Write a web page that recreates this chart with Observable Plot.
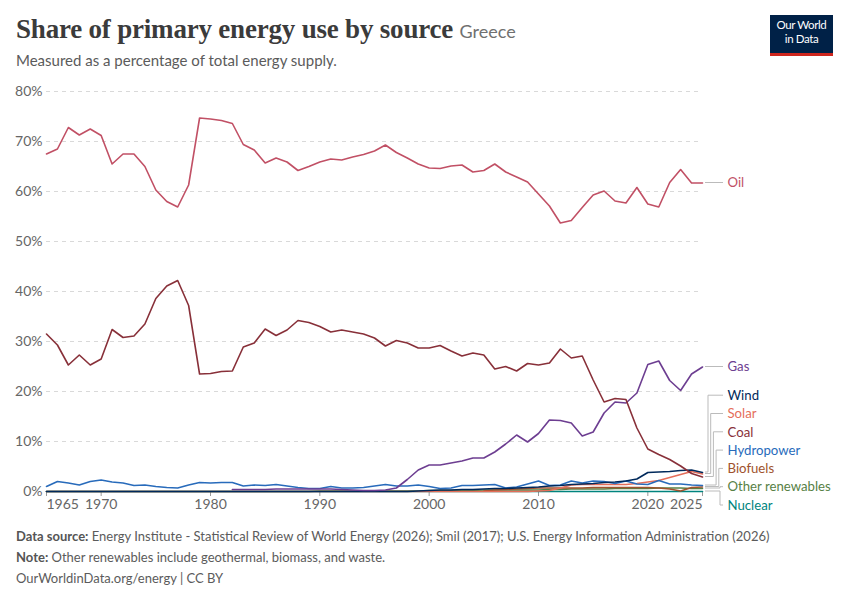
<!DOCTYPE html>
<html><head><meta charset="utf-8">
<script src="https://cdn.jsdelivr.net/npm/d3@7"></script>
<script src="https://cdn.jsdelivr.net/npm/@observablehq/plot@0.6"></script>
<style>
body{margin:0;background:#fff;font-family:Lato,sans-serif;}
#wrap{position:relative;width:850px;height:600px;overflow:hidden;}
#title{position:absolute;left:16px;top:14px;font-family:"Liberation Serif",serif;font-size:27px;color:#3b3b3b;font-weight:700;letter-spacing:-0.2px;white-space:nowrap}
#title span{font-family:Lato,sans-serif;font-size:18px;color:#707070;font-weight:400;letter-spacing:0}
#subtitle{position:absolute;left:16px;top:51px;font-size:15px;color:#5b5b5b}
#logo{position:absolute;left:770px;top:15px;width:63px;height:35px;background:#002147;border-bottom:3px solid #ce261e;color:#fff;font-size:11.5px;line-height:14px;text-align:center;padding-top:3px;box-sizing:content-box;letter-spacing:-0.4px;white-space:nowrap}
#chart{position:absolute;left:0;top:80px}
#footer{position:absolute;left:16px;top:526px;font-size:13px;color:#5b5b5b;line-height:21px}
#footer b{font-weight:700;color:#555}
</style></head>
<body><div id="wrap">
<div id="title">Share of primary energy use by source <span>Greece</span></div>
<div id="subtitle">Measured as a percentage of total energy supply.</div>
<div id="logo">Our World<br>in Data</div>
<div id="chart"></div>
<div id="footer">
<div><b>Data source:</b> Energy Institute - Statistical Review of World Energy (2026); Smil (2017); U.S. Energy Information Administration (2026)</div>
<div><b>Note:</b> Other renewables include geothermal, biomass, and waste.</div>
<div>OurWorldinData.org/energy | CC BY</div>
</div>
</div>
<script>
// Years 1965..2025
const startYear = 1965;
const endYear = 2025;
const oil = [67.5,68.5,72.8,71.3,72.5,71.2,65.5,67.5,67.5,65.0,60.3,58.0,56.9,61.3,74.7,74.5,74.2,73.6,69.4,68.3,65.7,66.7,65.9,64.2,65.0,65.9,66.5,66.3,66.9,67.4,68.1,69.3,67.8,66.7,65.5,64.7,64.6,65.1,65.3,63.9,64.2,65.5,63.9,62.9,61.9,59.5,57.1,53.7,54.2,56.8,59.3,60.1,58.1,57.7,60.8,57.5,56.9,61.8,64.4,61.7,61.7];
const coal = [31.5,29.3,25.3,27.3,25.3,26.5,32.4,30.8,31.1,33.5,38.6,41.1,42.2,37.2,23.5,23.6,24.0,24.1,28.9,29.7,32.5,31.2,32.3,34.2,33.8,33.0,31.9,32.3,31.9,31.5,30.7,29.1,30.2,29.7,28.7,28.7,29.2,28.1,27.1,27.7,27.3,24.5,25.0,24.1,25.6,25.3,25.7,28.5,26.7,27.1,22.3,17.9,18.6,18.4,12.7,8.5,7.4,6.4,5.1,3.6,2.9];
// Gas starts in 1982
const gasStart = 1982;
const gas = [0.4,0.4,0.4,0.4,0.5,0.5,0.5,0.5,0.5,0.5,0.4,0.3,0.2,0.2,0.3,0.7,2.4,4.3,5.3,5.3,5.7,6.1,6.7,6.7,7.9,9.5,11.3,9.9,11.6,14.3,14.2,13.7,11.1,11.9,15.7,17.9,17.7,19.7,25.4,26.1,22.2,20.2,23.5,24.9];
const hydro = [1.0,2.0,1.7,1.3,2.0,2.3,1.9,1.7,1.2,1.3,1.0,0.8,0.7,1.3,1.8,1.7,1.8,1.8,1.1,1.3,1.2,1.4,1.1,0.8,0.6,0.6,1.0,0.7,0.7,0.8,1.1,1.4,1.1,1.1,1.3,1.0,0.6,0.7,1.2,1.2,1.3,1.4,0.7,0.9,1.5,2.1,1.2,1.3,2.1,1.7,2.1,2.0,1.6,2.1,1.5,1.4,2.2,1.5,1.5,1.3,1.2];
const wind = [0,0,0,0,0,0,0,0,0,0,0,0,0,0,0,0,0,0,0,0,0,0,0,0,0,0,0,0,0,0,0,0,0,0,0.1,0.2,0.3,0.3,0.4,0.4,0.5,0.6,0.6,0.7,0.8,0.9,1.1,1.2,1.4,1.5,1.6,1.8,1.9,2.1,2.5,3.8,3.9,4.0,4.2,4.3,3.8];
const solar = [0,0,0,0,0,0,0,0,0,0,0,0,0,0,0,0,0,0,0,0,0,0,0,0,0,0,0,0,0,0,0,0,0,0,0,0,0,0,0,0,0,0,0,0,0,0.1,0.2,0.7,1.3,1.4,1.4,1.4,1.4,1.4,1.6,1.9,2.2,2.8,3.4,4.0,3.5];
// Biofuels start in 2005
const biofuelsStart = 2005;
const biofuels = [0.1,0.3,0.4,0.5,0.6,0.7,0.7,0.7,0.7,0.7,0.8,0.8,0.8,0.8,0.8,0.8,0.7,0.5,0.1,0.8,0.9];
const otherRenewables = [0,0,0,0,0,0,0,0,0,0,0,0,0,0,0,0,0,0,0,0,0,0,0,0,0,0.1,0.1,0.1,0.1,0.1,0.1,0.1,0.1,0.1,0.1,0.2,0.2,0.2,0.2,0.2,0.3,0.3,0.3,0.3,0.3,0.3,0.4,0.4,0.5,0.5,0.5,0.5,0.6,0.6,0.6,0.6,0.7,0.7,0.7,0.6,0.6];
const nuclear = [0,0,0,0,0,0,0,0,0,0,0,0,0,0,0,0,0,0,0,0,0,0,0,0,0,0,0,0,0,0,0,0,0,0,0,0,0,0,0,0,0,0,0,0,0,0,0,0,0,0,0,0,0,0,0,0,0,0,0,0,0];

const seriesNames = ["Nuclear","Other renewables","Biofuels","Solar","Hydropower","Wind","Gas","Coal","Oil"];
const seriesColors = ["#00847e","#578145","#a0522d","#e56e5a","#286bbb","#00295b","#6d3e91","#883039","#c15065"];
const yTicks = [0,10,20,30,40,50,60,70,80];
const xTicksMid = [1970,1980,1990,2000,2010,2020];

const seriesData = {
  "Nuclear": [startYear, nuclear],
  "Other renewables": [startYear, otherRenewables],
  "Biofuels": [biofuelsStart, biofuels],
  "Solar": [startYear, solar],
  "Hydropower": [startYear, hydro],
  "Wind": [startYear, wind],
  "Gas": [gasStart, gas],
  "Coal": [startYear, coal],
  "Oil": [startYear, oil]
};
const rows = [];
for (const name of seriesNames) {
  const [s, vals] = seriesData[name];
  vals.forEach((v, i) => rows.push({name, year: s + i, value: v}));
}

// label layout (dodge overlapping labels)
const labelItems = seriesNames.map(name => {
  const vals = seriesData[name][1];
  return {name, value: vals[vals.length - 1]};
});
function layoutLabels(items, gap, minV) {
  const clusters = items.slice().sort((a, b) => a.value - b.value).map(d => ({items: [d]}));
  const place = c => {
    const n = c.items.length;
    const mean = d3.mean(c.items, d => d.value);
    let lo = mean - (n - 1) * gap / 2;
    if (lo < minV) lo = minV;
    c.lo = lo; c.hi = lo + (n - 1) * gap;
  };
  clusters.forEach(place);
  let changed = true;
  while (changed) {
    changed = false;
    for (let i = 0; i < clusters.length - 1; i++) {
      if (clusters[i].hi + gap > clusters[i + 1].lo) {
        clusters[i].items.push(...clusters[i + 1].items);
        clusters.splice(i + 1, 1);
        place(clusters[i]);
        changed = true;
        break;
      }
    }
  }
  clusters.forEach(c => {
    const n = c.items.length;
    c.items.forEach((d, i) => { d.ly = c.lo + i * gap; d.rank = n - 1 - i; d.n = n; });
  });
}
layoutLabels(labelItems, 3.66, -2.8);

const connectors = (index, scales) => {
  const g = d3.create("svg:g").attr("fill", "none").attr("stroke", "#bbb").attr("stroke-width", 1);
  const xe = scales.x(endYear);
  for (const d of labelItems) {
    const y0 = scales.y(d.value), y1 = scales.y(d.ly);
    const elbow = Math.min(xe + 6 + 2.7 * d.rank, xe + 18);
    g.append("path").attr("d", `M${xe + 3},${y0}H${elbow}V${y1}H${xe + 21}`);
  }
  return g.node();
};

const chart = Plot.plot({
  width: 850,
  height: 441,
  marginLeft: 46,
  marginRight: 148,
  marginTop: 11,
  marginBottom: 30,
  x: {domain: [startYear, endYear]},
  y: {domain: [0, 80]},
  color: {domain: seriesNames, range: seriesColors},
  style: {fontFamily: "Lato, sans-serif", fontSize: "14px", color: "#666", background: "#fff"},
  marks: [
    Plot.gridY(yTicks.slice(1), {stroke: "#d9d9d9", strokeOpacity: 1, strokeDasharray: "4,4"}),
    Plot.ruleY([0], {stroke: "#bbb"}),
    Plot.axisY({ticks: yTicks, tickSize: 0, tickPadding: 4, tickFormat: d => d + "%", fill: "#666", fontSize: 14, label: null}),
    Plot.axisX({ticks: xTicksMid, tickSize: 5, tickPadding: 3, tickFormat: d => String(d), stroke: "#999", fill: "#666", fontSize: 14, label: null}),
    Plot.axisX({ticks: [startYear], tickSize: 5, tickPadding: 3, tickFormat: d => String(d), textAnchor: "start", stroke: "#999", fill: "#666", fontSize: 14, label: null}),
    Plot.axisX({ticks: [endYear], tickSize: 5, tickPadding: 3, tickFormat: d => String(d), textAnchor: "end", stroke: "#999", fill: "#666", fontSize: 14, label: null}),
    Plot.line(rows, {x: "year", y: "value", z: "name", stroke: "name", strokeWidth: 1.6}),
    connectors,
    Plot.text(labelItems, {x: () => endYear, y: "ly", text: "name", fill: "name", dx: 25, textAnchor: "start", fontSize: 13.2})
  ]
});
document.getElementById("chart").appendChild(chart);
</script>
</body></html>
